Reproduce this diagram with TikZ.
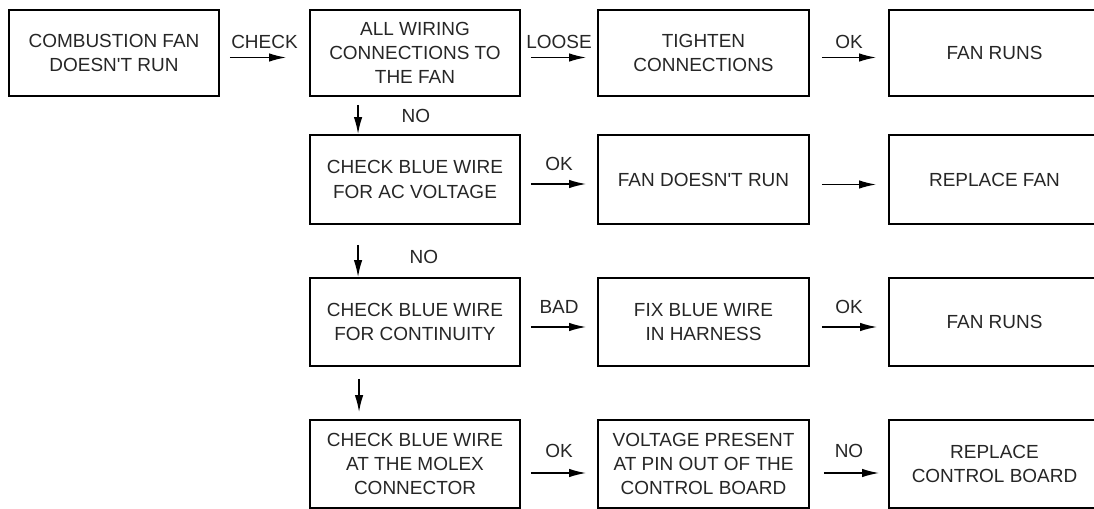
\documentclass[tikz,border=0pt]{standalone}
\usepackage{fontspec}
\setmainfont{Liberation Sans}
\usetikzlibrary{arrows.meta}

\begin{document}
\begin{tikzpicture}[x={(0.02cm,0)},y={(0,-0.02cm)},
    blk/.style={draw, line width=1.1pt, minimum width=4.2cm, minimum height=1.76cm,
      inner sep=0pt, align=center, text=black!85, font=\fontsize{10.8}{13.8}\selectfont},
    lbl/.style={inner sep=0pt, text=black!85, font=\fontsize{10.8}{13}\selectfont},
    conn/.style={line width=0.8pt, -{Latex[length=0.34cm,width=0.17cm]},
      shorten <=0.2cm, shorten >=0.22cm}]
        \useasboundingbox (0,0) rectangle (1094,508);

        \node [blk, minimum height=1.72cm](fan) at (114,53){COMBUSTION FAN\\DOESN\textquotesingle T RUN};
        \node [blk, minimum height=1.72cm](wiring) at (415,53){ALL WIRING\\CONNECTIONS TO\\THE FAN};
        \node [blk, minimum height=1.72cm, minimum width=4.22cm](tighten) at (703.5,53){TIGHTEN\\CONNECTIONS};
        \node [blk, minimum height=1.72cm, minimum width=4.22cm](runs1) at (994.5,53){FAN RUNS};

        \node [blk, minimum height=1.78cm](acv) at (415,179.5){CHECK BLUE WIRE\\FOR AC VOLTAGE};
        \node [blk, minimum height=1.78cm, minimum width=4.22cm](norun) at (703.5,179.5){FAN DOESN\textquotesingle T RUN};
        \node [blk, minimum height=1.78cm, minimum width=4.22cm](replfan) at (994.5,179.5){REPLACE FAN};

        \node [blk](cont) at (415,322){CHECK BLUE WIRE\\FOR CONTINUITY};
        \node [blk, minimum width=4.22cm](fix) at (703.5,322){FIX BLUE WIRE\\IN HARNESS};
        \node [blk, minimum width=4.22cm](runs2) at (994.5,322){FAN RUNS};

        \node [blk](molex) at (415,464){CHECK BLUE WIRE\\AT THE MOLEX\\CONNECTOR};
        \node [blk, minimum width=4.22cm](volt) at (703.5,464){VOLTAGE PRESENT\\AT PIN OUT OF THE\\CONTROL BOARD};
        \node [blk, minimum width=4.22cm](replbd) at (994.5,464){REPLACE\\CONTROL BOARD};

        % across
        \draw [conn, shorten >=0.46cm] ([yshift=-0.09cm]fan.east) -- node[lbl, above=4.8pt]{CHECK} ([yshift=-0.09cm]wiring.west);
        \draw [conn] ([yshift=-0.09cm]wiring.east) -- node[lbl, above=4.8pt]{LOOSE} ([yshift=-0.09cm]tighten.west);
        \draw [conn, shorten <=0.24cm, shorten >=0.24cm] ([yshift=-0.09cm]tighten.east) -- node[lbl, above=4.8pt]{OK} ([yshift=-0.09cm]runs1.west);

        \draw [conn] ([yshift=-0.09cm]acv.east) -- node[lbl, above=7.4pt]{OK} ([yshift=-0.09cm]norun.west);
        \draw [conn, shorten <=0.24cm, shorten >=0.24cm] ([yshift=-0.1cm]norun.east) -- ([yshift=-0.1cm]replfan.west);

        \draw [conn] ([yshift=-0.1cm]cont.east) -- node[lbl, above=7.4pt]{BAD} ([yshift=-0.1cm]fix.west);
        \draw [conn, shorten <=0.24cm, shorten >=0.22cm] ([yshift=-0.1cm]fix.east) -- node[lbl, above=7.4pt]{OK} ([yshift=-0.1cm]runs2.west);

        \draw [conn] ([yshift=-0.18cm]molex.east) -- node[lbl, above=8.2pt]{OK} ([yshift=-0.18cm]volt.west);
        \draw [conn, shorten <=0.28cm, shorten >=0.18cm] ([yshift=-0.18cm]volt.east) -- node[lbl, above=8.2pt]{NO} ([yshift=-0.18cm]replbd.west);

        % down
        \draw [conn, shorten <=0.16cm, shorten >=0pt] ([xshift=0.98cm]wiring.south west) -- node[lbl, right=0.86cm]{NO} ([xshift=0.98cm]acv.north west);
        \draw [conn, shorten <=0.4cm, shorten >=0pt] ([xshift=0.98cm]acv.south west) -- node[lbl, pos=0.62, right=1.02cm]{NO} ([xshift=0.98cm]cont.north west);
        \draw [conn, shorten <=0.24cm, shorten >=0.14cm] ([xshift=1.0cm]cont.south west) -- ([xshift=1.0cm]molex.north west);
      \end{tikzpicture}
\end{document}
